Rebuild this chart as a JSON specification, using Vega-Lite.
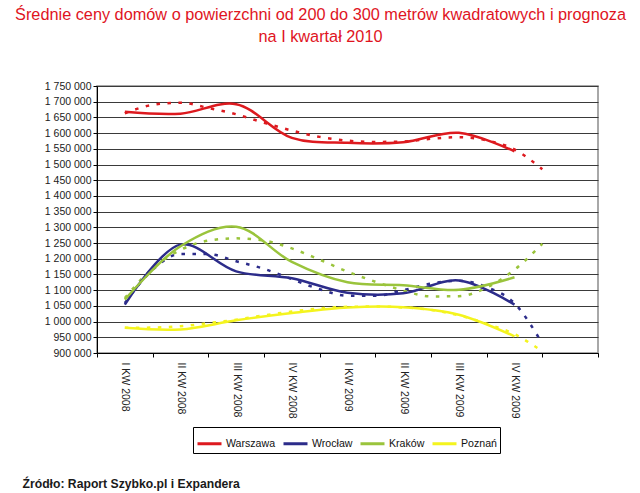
{
  "$schema": "https://vega.github.io/schema/vega-lite/v6.json",
  "width": 501,
  "height": 267,
  "autosize": {"type": "none"},
  "padding": {"left": 97, "top": 86, "right": 42, "bottom": 140},
  "background": "white",
  "title": {
    "text": ["Średnie ceny domów o powierzchni od 200 do 300 metrów kwadratowych i prognoza", "na I kwartał 2010"],
    "color": "#e0141e",
    "font": "Liberation Sans",
    "fontSize": 16.3,
    "fontWeight": "normal",
    "lineHeight": 22,
    "anchor": "middle",
    "dx": -27,
    "offset": 36
  },
  "config": {
    "view": {"stroke": "#8c8c8c", "strokeWidth": 1.5},
    "font": "Liberation Sans"
  },
  "data": {
    "values": [
      {"city": "Warszawa", "kind": "actual", "q": 1, "v": 1668000},
      {"city": "Warszawa", "kind": "actual", "q": 2, "v": 1662000},
      {"city": "Warszawa", "kind": "actual", "q": 3, "v": 1692000},
      {"city": "Warszawa", "kind": "actual", "q": 4, "v": 1585000},
      {"city": "Warszawa", "kind": "actual", "q": 5, "v": 1569000},
      {"city": "Warszawa", "kind": "actual", "q": 6, "v": 1571000},
      {"city": "Warszawa", "kind": "actual", "q": 7, "v": 1601000},
      {"city": "Warszawa", "kind": "actual", "q": 8, "v": 1542000},
      {"city": "Wrocław", "kind": "actual", "q": 1, "v": 1054000},
      {"city": "Wrocław", "kind": "actual", "q": 2, "v": 1245000},
      {"city": "Wrocław", "kind": "actual", "q": 3, "v": 1160000},
      {"city": "Wrocław", "kind": "actual", "q": 4, "v": 1138000},
      {"city": "Wrocław", "kind": "actual", "q": 5, "v": 1092000},
      {"city": "Wrocław", "kind": "actual", "q": 6, "v": 1090000},
      {"city": "Wrocław", "kind": "actual", "q": 7, "v": 1131000},
      {"city": "Wrocław", "kind": "actual", "q": 8, "v": 1054000},
      {"city": "Kraków", "kind": "actual", "q": 1, "v": 1070000},
      {"city": "Kraków", "kind": "actual", "q": 2, "v": 1240000},
      {"city": "Kraków", "kind": "actual", "q": 3, "v": 1302000},
      {"city": "Kraków", "kind": "actual", "q": 4, "v": 1190000},
      {"city": "Kraków", "kind": "actual", "q": 5, "v": 1125000},
      {"city": "Kraków", "kind": "actual", "q": 6, "v": 1116000},
      {"city": "Kraków", "kind": "actual", "q": 7, "v": 1101000},
      {"city": "Kraków", "kind": "actual", "q": 8, "v": 1141000},
      {"city": "Poznań", "kind": "actual", "q": 1, "v": 980000},
      {"city": "Poznań", "kind": "actual", "q": 2, "v": 975000},
      {"city": "Poznań", "kind": "actual", "q": 3, "v": 1004000},
      {"city": "Poznań", "kind": "actual", "q": 4, "v": 1027000},
      {"city": "Poznań", "kind": "actual", "q": 5, "v": 1045000},
      {"city": "Poznań", "kind": "actual", "q": 6, "v": 1046000},
      {"city": "Poznań", "kind": "actual", "q": 7, "v": 1022000},
      {"city": "Poznań", "kind": "actual", "q": 8, "v": 953000},

      {"city": "Warszawa", "kind": "trend", "q": 1, "v": 1663000},
      {"city": "Warszawa", "kind": "trend", "q": 1.5, "v": 1690000},
      {"city": "Warszawa", "kind": "trend", "q": 2, "v": 1697000},
      {"city": "Warszawa", "kind": "trend", "q": 2.5, "v": 1680000},
      {"city": "Warszawa", "kind": "trend", "q": 3, "v": 1660000},
      {"city": "Warszawa", "kind": "trend", "q": 3.5, "v": 1633000},
      {"city": "Warszawa", "kind": "trend", "q": 4, "v": 1608000},
      {"city": "Warszawa", "kind": "trend", "q": 4.5, "v": 1588000},
      {"city": "Warszawa", "kind": "trend", "q": 5, "v": 1576000},
      {"city": "Warszawa", "kind": "trend", "q": 5.5, "v": 1572000},
      {"city": "Warszawa", "kind": "trend", "q": 6, "v": 1573000},
      {"city": "Warszawa", "kind": "trend", "q": 6.5, "v": 1582000},
      {"city": "Warszawa", "kind": "trend", "q": 7, "v": 1587000},
      {"city": "Warszawa", "kind": "trend", "q": 7.5, "v": 1577000},
      {"city": "Warszawa", "kind": "trend", "q": 8, "v": 1548000},
      {"city": "Warszawa", "kind": "trend", "q": 8.5, "v": 1485000},
      {"city": "Wrocław", "kind": "trend", "q": 1, "v": 1059000},
      {"city": "Wrocław", "kind": "trend", "q": 1.5, "v": 1165000},
      {"city": "Wrocław", "kind": "trend", "q": 2, "v": 1215000},
      {"city": "Wrocław", "kind": "trend", "q": 2.5, "v": 1215000},
      {"city": "Wrocław", "kind": "trend", "q": 3, "v": 1192000},
      {"city": "Wrocław", "kind": "trend", "q": 3.5, "v": 1168000},
      {"city": "Wrocław", "kind": "trend", "q": 4, "v": 1135000},
      {"city": "Wrocław", "kind": "trend", "q": 4.5, "v": 1103000},
      {"city": "Wrocław", "kind": "trend", "q": 5, "v": 1082000},
      {"city": "Wrocław", "kind": "trend", "q": 5.5, "v": 1082000},
      {"city": "Wrocław", "kind": "trend", "q": 6, "v": 1100000},
      {"city": "Wrocław", "kind": "trend", "q": 6.5, "v": 1121000},
      {"city": "Wrocław", "kind": "trend", "q": 7, "v": 1130000},
      {"city": "Wrocław", "kind": "trend", "q": 7.5, "v": 1110000},
      {"city": "Wrocław", "kind": "trend", "q": 8, "v": 1058000},
      {"city": "Wrocław", "kind": "trend", "q": 8.5, "v": 930000},
      {"city": "Kraków", "kind": "trend", "q": 1, "v": 1075000},
      {"city": "Kraków", "kind": "trend", "q": 1.5, "v": 1170000},
      {"city": "Kraków", "kind": "trend", "q": 2, "v": 1228000},
      {"city": "Kraków", "kind": "trend", "q": 2.5, "v": 1258000},
      {"city": "Kraków", "kind": "trend", "q": 3, "v": 1265000},
      {"city": "Kraków", "kind": "trend", "q": 3.5, "v": 1258000},
      {"city": "Kraków", "kind": "trend", "q": 4, "v": 1233000},
      {"city": "Kraków", "kind": "trend", "q": 4.5, "v": 1197000},
      {"city": "Kraków", "kind": "trend", "q": 5, "v": 1159000},
      {"city": "Kraków", "kind": "trend", "q": 5.5, "v": 1127000},
      {"city": "Kraków", "kind": "trend", "q": 6, "v": 1099000},
      {"city": "Kraków", "kind": "trend", "q": 6.5, "v": 1080000},
      {"city": "Kraków", "kind": "trend", "q": 7, "v": 1081000},
      {"city": "Kraków", "kind": "trend", "q": 7.5, "v": 1108000},
      {"city": "Kraków", "kind": "trend", "q": 8, "v": 1165000},
      {"city": "Kraków", "kind": "trend", "q": 8.5, "v": 1248000},
      {"city": "Poznań", "kind": "trend", "q": 1, "v": 980000},
      {"city": "Poznań", "kind": "trend", "q": 1.5, "v": 981000},
      {"city": "Poznań", "kind": "trend", "q": 2, "v": 985000},
      {"city": "Poznań", "kind": "trend", "q": 2.5, "v": 995000},
      {"city": "Poznań", "kind": "trend", "q": 3, "v": 1006000},
      {"city": "Poznań", "kind": "trend", "q": 3.5, "v": 1020000},
      {"city": "Poznań", "kind": "trend", "q": 4, "v": 1032000},
      {"city": "Poznań", "kind": "trend", "q": 4.5, "v": 1042000},
      {"city": "Poznań", "kind": "trend", "q": 5, "v": 1047000},
      {"city": "Poznań", "kind": "trend", "q": 5.5, "v": 1048000},
      {"city": "Poznań", "kind": "trend", "q": 6, "v": 1045000},
      {"city": "Poznań", "kind": "trend", "q": 6.5, "v": 1037000},
      {"city": "Poznań", "kind": "trend", "q": 7, "v": 1020000},
      {"city": "Poznań", "kind": "trend", "q": 7.5, "v": 993000},
      {"city": "Poznań", "kind": "trend", "q": 8, "v": 960000},
      {"city": "Poznań", "kind": "trend", "q": 8.5, "v": 905000}
    ]
  },
  "encoding": {
    "x": {
      "field": "q",
      "type": "quantitative",
      "scale": {"domain": [0.5, 9.5], "nice": false, "zero": false},
      "axis": {
        "values": [0.5, 1.5, 2.5, 3.5, 4.5, 5.5, 6.5, 7.5, 8.5, 9.5],
        "labelExpr": "datum.value < 8 ? ['I','II','III','IV'][floor(datum.value) % 4] + ' KW ' + (datum.value < 4 ? '2008' : '2009') : ''",
        "labelAngle": 90,
        "labelAlign": "left",
        "labelBaseline": "middle",
        "labelOffset": 27.8,
        "labelPadding": 5,
        "labelFlush": false,
        "labelOverlap": false,
        "labelBound": false,
        "labelFont": "Liberation Sans",
        "labelFontSize": 10.5,
        "labelColor": "#222222",
        "tickSize": 4,
        "tickColor": "#000000",
        "domainColor": "#000000",
        "grid": false,
        "title": "Źródło: Raport Szybko.pl i Expandera",
        "titleX": -75,
        "titleY": 130,
        "titleAlign": "left",
        "titleBaseline": "middle",
        "titleFont": "Liberation Sans",
        "titleFontSize": 12.2,
        "titleFontWeight": "bold",
        "titleColor": "#1a1a1a"
      }
    },
    "y": {
      "field": "v",
      "type": "quantitative",
      "scale": {"domain": [900000, 1750000], "nice": false, "zero": false},
      "axis": {
        "values": [900000, 950000, 1000000, 1050000, 1100000, 1150000, 1200000, 1250000, 1300000, 1350000, 1400000, 1450000, 1500000, 1550000, 1600000, 1650000, 1700000, 1750000],
        "labelExpr": "replace(format(datum.value, ','), regexp(',', 'g'), ' ')",
        "grid": true,
        "gridColor": "#3a3a3a",
        "gridWidth": 1,
        "domainColor": "#000000",
        "tickColor": "#000000",
        "tickSize": 4,
        "labelPadding": 2,
        "labelFont": "Liberation Sans",
        "labelFontSize": 10.5,
        "labelColor": "#222222",
        "title": null
      }
    },
    "color": {
      "field": "city",
      "type": "nominal",
      "scale": {
        "domain": ["Warszawa", "Wrocław", "Kraków", "Poznań"],
        "range": ["#dd1a1f", "#2c2c8a", "#9ac43c", "#f4f41e"]
      },
      "legend": {
        "orient": "none",
        "legendX": 96,
        "legendY": 341,
        "direction": "horizontal",
        "title": null,
        "symbolType": "stroke",
        "symbolSize": 576,
        "symbolStrokeWidth": 3,
        "symbolDash": [1, 0],
        "labelFont": "Liberation Sans",
        "labelFontSize": 10.6,
        "labelColor": "#111111",
        "strokeColor": "#000000",
        "fillColor": "#ffffff",
        "padding": 3,
        "columnPadding": 1,
        "labelOffset": 3
      }
    }
  },
  "layer": [
    {
      "transform": [{"filter": "datum.kind == 'trend'"}],
      "mark": {"type": "line", "interpolate": "monotone", "strokeWidth": 2.5, "strokeDash": [3.5, 7.5], "strokeCap": "butt"},
      "encoding": {"detail": {"field": "city"}}
    },
    {
      "transform": [{"filter": "datum.kind == 'actual'"}],
      "mark": {"type": "line", "interpolate": "catmull-rom", "strokeWidth": 2.5},
      "encoding": {"detail": {"field": "city"}}
    }
  ]
}
